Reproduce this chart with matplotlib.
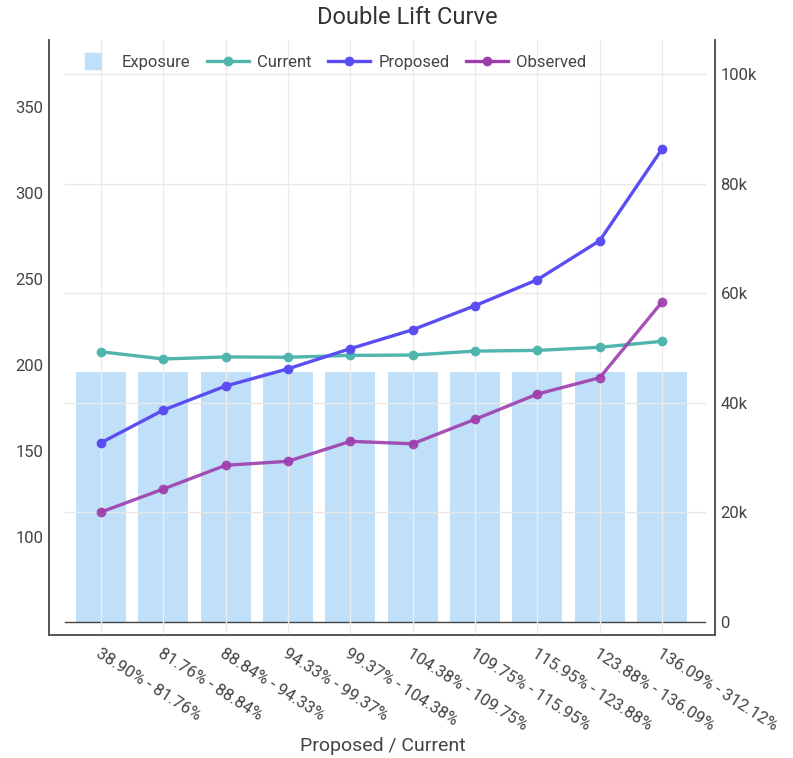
import numpy as np
import matplotlib
matplotlib.use("Agg")
import matplotlib.pyplot as plt
from matplotlib.lines import Line2D
from matplotlib.ticker import FuncFormatter

plt.rcParams['font.family'] = ['Roboto', 'DejaVu Sans']

# data
bins = ["38.90% - 81.76%", "81.76% - 88.84%", "88.84% - 94.33%", "94.33% - 99.37%",
        "99.37% - 104.38%", "104.38% - 109.75%", "109.75% - 115.95%",
        "115.95% - 123.88%", "123.88% - 136.09%", "136.09% - 312.12%"]
exposure = [45600, 45600, 45600, 45600, 45600, 45600, 45600, 45600, 45600, 45600]
current = [207.7, 203.5, 204.7, 204.5, 205.6, 205.8, 208.1, 208.5, 210.3, 213.8]
proposed = [154.8, 173.8, 187.8, 197.8, 209.5, 220.5, 234.5, 249.6, 272.3, 325.6]
observed = [114.5, 127.9, 141.7, 144.0, 155.6, 154.2, 168.4, 183.1, 192.6, 236.6]

c_bar = '#c0e0f9'
c_cur = '#4fb5ad'
c_prop = '#5a4ef2'
c_obs = '#9d3eae'
txt = '#444444'

fig = plt.figure(figsize=(7.93, 7.58), dpi=100)
ax = fig.add_axes([0.0618, 0.1623, 0.8398, 0.7849])
ax2 = ax.twinx()
x = np.arange(len(bins))

# exposure bars on the right axis
ax2.bar(x, exposure, width=0.8, color=c_bar, zorder=1)
for v in [20000, 40000, 60000, 80000, 100000]:
    ax2.axhline(v, xmin=0.024, xmax=0.985, color='#e8e8e8', lw=1, zorder=2)
ax2.axhline(0, xmin=0.024, xmax=0.985, color='#444444', lw=1, zorder=3)
ax2.set_ylim(-2370, 106200)
ax2.set_yticks([0, 20000, 40000, 60000, 80000, 100000])
ax2.yaxis.set_major_formatter(FuncFormatter(lambda v, p: '0' if v == 0 else f'{int(v/1000)}k'))

# lines on the left axis
ax.set_zorder(ax2.get_zorder() + 1)
ax.patch.set_visible(False)
ax.plot(x, current, color=c_cur, lw=2.4, marker='o', ms=6, zorder=5)
ax.plot(x, proposed, color=c_prop, lw=2.4, marker='o', ms=6, zorder=5)
ax.plot(x, observed, color=c_obs, lw=2.4, marker='o', ms=6, zorder=5, alpha=0.9)
ax.set_ylim(43.0, 389.0)
ax.set_yticks([100, 150, 200, 250, 300, 350])
ax.set_xlim(-0.835, 9.85)
ax.set_xticks(x)
ax.set_xticklabels(bins, rotation=-32.5, ha='left', va='top', rotation_mode='anchor',
                   fontsize=12, color=txt)
ax.xaxis.grid(True, color='#ebebeb', lw=1)
ax.set_axisbelow(True)
ax2.set_xlim(-0.835, 9.85)

for a in (ax, ax2):
    a.tick_params(axis='both', length=0, labelsize=12, labelcolor=txt)
    a.spines['top'].set_visible(False)
    for s in ('left', 'right', 'bottom'):
        a.spines[s].set_color('#555555')
        a.spines[s].set_linewidth(1.2)
ax.tick_params(axis='x', pad=8)
ax.tick_params(axis='y', pad=4)
ax2.tick_params(axis='y', pad=4)

fig.text(383 / 793, 1 - 746 / 758, "Proposed / Current", ha='center', va='center',
         fontsize=14, color=txt)
fig.text(407 / 793, 1 - 18 / 758, "Double Lift Curve", ha='center', va='center',
         fontsize=17, color='#333333')

handles = [Line2D([], [], color=c_bar, marker='s', ms=12, ls='none'),
           Line2D([], [], color=c_cur, lw=2.4, marker='o', ms=6),
           Line2D([], [], color=c_prop, lw=2.4, marker='o', ms=6),
           Line2D([], [], color=c_obs, lw=2.4, marker='o', ms=6)]
ax.legend(handles, ["Exposure", "Current", "Proposed", "Observed"], ncol=4,
          loc='upper left', bbox_to_anchor=(0.012, 1.0), frameon=False,
          fontsize=12, labelcolor=txt, handlelength=2.5, columnspacing=1.0,
          handletextpad=0.5)

fig.savefig("out.png", dpi=100)
